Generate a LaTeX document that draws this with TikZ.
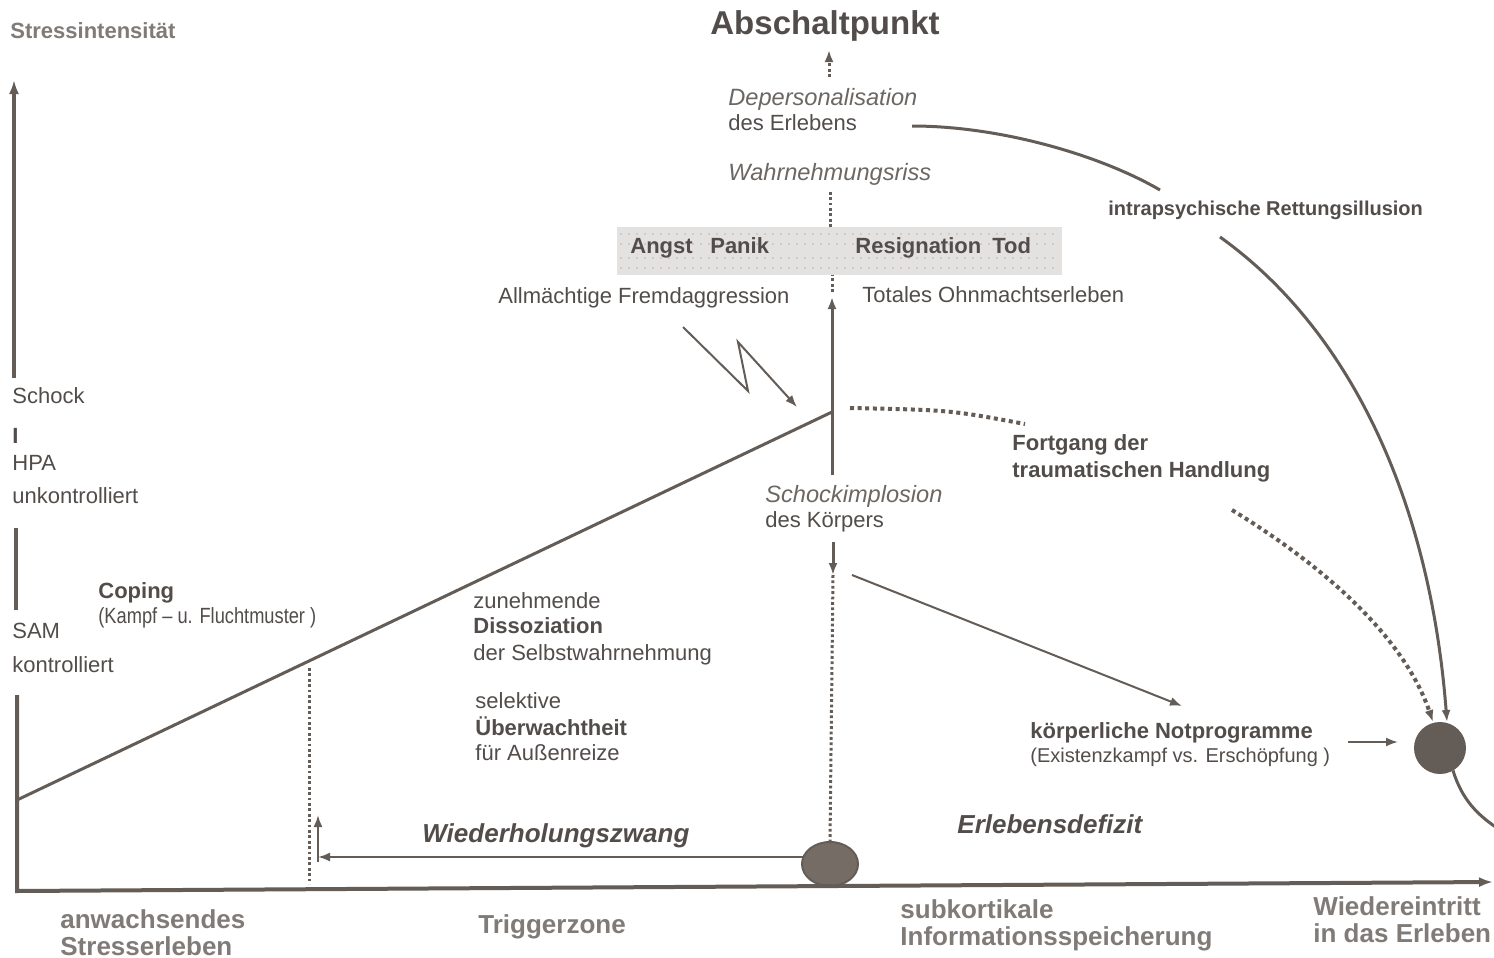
\documentclass[tikz,border=0pt]{standalone}
\usepackage{fontspec}
\usepackage{graphicx}
\setmainfont{Liberation Sans}
\usetikzlibrary{arrows.meta,shapes.geometric}
\definecolor{ink}{RGB}{82,77,74}
\definecolor{italink}{RGB}{108,103,99}
\definecolor{lightink}{RGB}{128,123,119}
\definecolor{linec}{RGB}{100,92,86}
\definecolor{boxfill}{RGB}{228,226,224}
\definecolor{boxdot}{RGB}{206,203,200}
\definecolor{ballfill}{RGB}{118,108,102}
\begin{document}
\begin{tikzpicture}[x=0.5pt,y=-0.5pt,
 lab/.style={anchor=base west,inner sep=0pt,text=ink,font=\fontsize{11}{13}\selectfont},
 labb/.style={lab,font=\fontsize{11}{13}\selectfont\bfseries},
 labi/.style={lab,text=italink,font=\fontsize{11.8}{13}\selectfont\itshape},
 bigi/.style={lab,font=\fontsize{13}{15}\selectfont\bfseries\itshape},
 bottomlab/.style={lab,text=lightink,font=\fontsize{13}{15}\selectfont\bfseries},
 axisline/.style={draw=linec,line width=2pt},
 mainline/.style={draw=linec,line width=1.5pt},
 thinline/.style={draw=linec,line width=1pt},
 tip/.style={-{Latex[length=6pt,width=4.5pt]}},
 dotline/.style={draw=linec,line width=1.5pt,dash pattern=on 1.4pt off 1.3pt},
 fatdots/.style={draw=linec,line width=2pt,dash pattern=on 2pt off 1.8pt},
]
\useasboundingbox (0,0) rectangle (1494,958);
\fill[white] (0,0) rectangle (1494,958);

% ---------- shaded box ----------
\node (box) [fill=boxfill, inner sep=0pt, minimum width=222.5pt, minimum height=24pt] at (839.5,251) {};
\foreach \yy in {234,244,258,268}{
  \draw[boxdot, line width=0.8pt, dash pattern=on 1pt off 3pt] (620,\yy) -- (1060,\yy);
}

% ---------- texts ----------
\node[lab, text=lightink, font=\fontsize{11}{12}\selectfont\bfseries] (stress) at (10,39) {Stressintensität};
\node[anchor=base, inner sep=0pt, text=ink, font=\fontsize{16.5}{18}\selectfont\bfseries] (absch) at (825,34) {Abschaltpunkt};
\node[labi] (dep) at (728,105) {Depersonalisation};
\node[lab] (deserl) at (728,130) {des Erlebens};
\node[labi] (wahr) at (728,180) {Wahrnehmungsriss};
\node[labb] (angst) at (630,253) {Angst\hspace{0.8em}Panik};
\node[labb] (resig) at (855,253) {Resignation\hspace{0.5em}Tod};
\node[lab] (allm) at (498,303) {Allmächtige Fremdaggression};
\node[lab] (total) at (862,302) {Totales Ohnmachtserleben};
\node[labb, font=\fontsize{10}{11}\selectfont\bfseries] (intra) at (1108,215) {intrapsychische Rettungsillusion};

\node[lab] (schock) at (12,403) {Schock};
\node[labb] (bar) at (12,443) {I};
\node[lab] (hpa) at (12,470) {HPA};
\node[lab] (unk) at (12,503) {unkontrolliert};
\node[lab] (sam) at (12,638) {SAM};
\node[lab] (kon) at (12,672) {kontrolliert};
\node[labb] (coping) at (98,598) {Coping};
\node[lab] (kampf) at (98,623) {\scalebox{0.83}[1]{(Kampf – u. Fluchtmuster )}};

\node[labb] (fort1) at (1012,450) {Fortgang der};
\node[labb] (fort2) at (1012,477) {traumatischen Handlung};
\node[labi] (schi) at (765,502) {Schockimplosion};
\node[lab] (desk) at (765,527) {des Körpers};

\node[lab] (zun) at (473,608) {zunehmende};
\node[labb] (diss) at (473,633) {Dissoziation};
\node[lab] (selbst) at (473,660) {der Selbstwahrnehmung};
\node[lab] (sel) at (475,708) {selektive};
\node[labb] (ueber) at (475,735) {Überwachtheit};
\node[lab] (fuer) at (475,760) {für Außenreize};

\node[bigi] (wied) at (422,842) {Wiederholungszwang};
\node[labb] (koerp) at (1030,738) {körperliche Notprogramme};
\node[lab, font=\fontsize{10}{12}\selectfont] (exist) at (1030,762) {(Existenzkampf vs. Erschöpfung )};
\node[bigi] (erleb) at (957,833) {Erlebensdefizit};

\node[bottomlab] (anw1) at (60,928) {anwachsendes};
\node[bottomlab] (anw2) at (60,955) {Stresserleben};
\node[bottomlab] (trig) at (478,933) {Triggerzone};
\node[bottomlab] (sub1) at (900,918) {subkortikale};
\node[bottomlab] (sub2) at (900,945) {Informationsspeicherung};
\node[bottomlab] (wie1) at (1313,915) {Wiedereintritt};
\node[bottomlab] (wie2) at (1313,942) {in das Erleben};

% ---------- balls ----------
\node (ball1) [ellipse, fill=ballfill, draw=linec, line width=1pt, minimum width=28pt, minimum height=22pt, inner sep=0pt] at (830,864) {};
\node (ball2) [circle, fill=ballfill!85!black, draw=linec, line width=1pt, minimum size=25pt, inner sep=0pt] at (1440,748) {};

% ---------- coordinates ----------
\coordinate (ybot) at (14,378);
\coordinate (ytop) at (14,80);
\coordinate (seg1a) at (16,528);
\coordinate (seg1b) at (16,610);
\coordinate (ax0) at (17,695);
\coordinate (corner) at (17,891);
\coordinate (xend) at (1493,882);
\coordinate (d0) at (17,800);
\coordinate (peak) at (832,412);
\coordinate (vlow) at (832,475);
\coordinate (vtip) at (832,297);
\coordinate (vdot) at (832,292);
\coordinate (boxb) at (832,275);
\coordinate (boxt) at (830,227);
\coordinate (wt) at (830,192);
\coordinate (dp) at (829,77);
\coordinate (abt) at (829,50);
\coordinate (sd0) at (833,542);
\coordinate (sd1) at (833,575);
\coordinate (np0) at (852,575);
\coordinate (np1) at (1182,706);
\coordinate (sa0) at (1348,742);
\coordinate (sa1) at (1398,742);
\coordinate (wstart) at (803,857);
\coordinate (wend) at (318,857);
\coordinate (ua0) at (318,862);
\coordinate (ua1) at (318,815);
\coordinate (tz0) at (309,668);
\coordinate (tz1) at (309,884);
\coordinate (l0) at (683,327);
\coordinate (l1) at (748,391);
\coordinate (l2) at (738,342);
\coordinate (l3) at (797,407);
\coordinate (r0) at (912,126);
\coordinate (r1) at (1160,190);
\coordinate (r2) at (1220,237);
\coordinate (r3) at (1447,722);
\coordinate (f0) at (850,408);
\coordinate (f1) at (1025,424);
\coordinate (f2) at (1232,510);
\coordinate (f3) at (1433,722);
\coordinate (exitc) at (1497,828);

% ---------- axes ----------
\draw[axisline, -{Latex[length=7pt,width=5pt]}] (ybot) -- (ytop);
\draw[axisline] (seg1a) -- (seg1b);
\draw[axisline, -{Latex[length=7pt,width=5pt]}] (ax0) -- (corner) -- (xend);

% ---------- main curve ----------
\draw[mainline] (d0) -- (peak);
\draw[mainline, tip] (vlow) -- (vtip);
\draw[dotline] (vdot) -- (boxb);
\draw[dotline] (boxt) -- (wt);
\draw[dotline, tip] (dp) -- (abt);
\draw[mainline, tip] (sd0) -- (sd1);
\draw[dotline] (sd1) -- (ball1.north);

% ---------- connectors ----------
\draw[thinline, tip] (l0) -- (l1) -- (l2) -- (l3);
\draw[thinline, tip] (np0) -- (np1);
\draw[thinline, tip] (sa0) -- (sa1);
\draw[thinline, tip] (wstart) -- (wend);
\draw[thinline, tip] (ua0) -- (ua1);
\draw[dotline] (tz0) -- (tz1);

\draw[mainline] (r0) .. controls (1000,126) and (1100,155) .. (r1);
\draw[mainline, tip] (r2) .. controls (1350,330) and (1430,500) .. (r3);

\draw[fatdots] (f0) .. controls (950,410) .. (f1);
\draw[fatdots, tip] (f2) .. controls (1330,570) and (1405,640) .. (f3);

\draw[mainline] (ball2.-60) .. controls (1462,800) and (1478,815) .. (exitc);
\end{tikzpicture}
\end{document}
